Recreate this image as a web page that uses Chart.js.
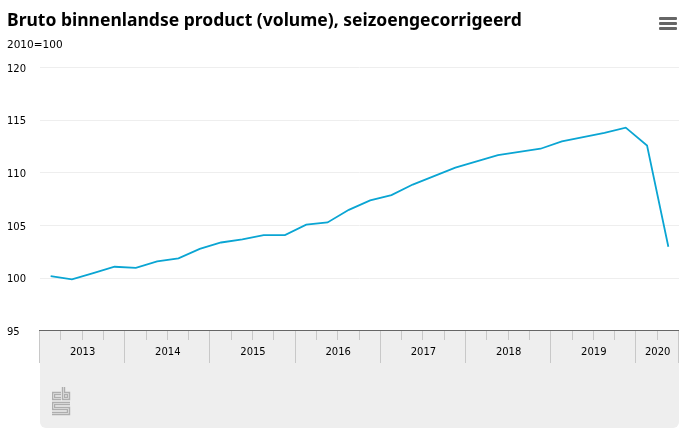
<!DOCTYPE html>
<html>
<head>
<meta charset="utf-8">
<style>
html, body { margin: 0; padding: 0; background: #fff; }
#wrap { position: relative; width: 696px; height: 442px; }
#menu { position: absolute; left: 659px; top: 17px; width: 18px; height: 3px; background: #666; border-radius: 1px;
        box-shadow: 0 5px 0 #666, 0 10px 0 #666; }
#logo { position: absolute; left: 52px; top: 387px; }
#logo path { fill: none; }
</style>
<script src="https://cdn.jsdelivr.net/npm/chart.js@4"></script>
</head>
<body>
<div id="wrap">
    <canvas id="bbpChart" width="696" height="442"></canvas>
    <div id="menu"></div>
    <svg id="logo" width="19" height="29" viewBox="0 0 19 29">
        <g stroke="#aeaeae" stroke-width="3.4">
            <path d="M9 6.5H1.5V11.5H9"/>
            <path d="M11.5 0V11.5H16.5V6.5H11.5"/>
            <path d="M18 16.5H1.5V21.5H16.5V26.5H0"/>
        </g>
        <g stroke="#d6d6d6" stroke-width="1">
            <path d="M9 6.5H1.5V11.5H9"/>
            <path d="M11.5 0V11.5H16.5V6.5H11.5"/>
            <path d="M18 16.5H1.5V21.5H16.5V26.5H0"/>
        </g>
    </svg>
</div>
<script>
var quarters = ["2013 K1","2013 K2","2013 K3","2013 K4","2014 K1","2014 K2","2014 K3","2014 K4",
    "2015 K1","2015 K2","2015 K3","2015 K4","2016 K1","2016 K2","2016 K3","2016 K4",
    "2017 K1","2017 K2","2017 K3","2017 K4","2018 K1","2018 K2","2018 K3","2018 K4",
    "2019 K1","2019 K2","2019 K3","2019 K4","2020 K1","2020 K2"];
var bbpValues = [100.2, 99.9, 100.5, 101.1, 101.0, 101.6, 101.9, 102.8,
    103.4, 103.7, 104.1, 104.1, 105.1, 105.3, 106.5, 107.4,
    107.9, 108.9, 109.7, 110.5, 111.1, 111.7, 112.0, 112.3,
    113.0, 113.4, 113.8, 114.3, 112.6, 103.0];
var years = ["2013","2014","2015","2016","2017","2018","2019","2020"];
var yearQuarters = [4, 4, 4, 4, 4, 4, 4, 2];

var labelFont = "10px 'DejaVu Sans'";

// grijs vlak onder de as
var panelPlugin = {
    id: "panel",
    beforeDraw: function (chart) {
        var c = chart.ctx, a = chart.chartArea;
        c.save();
        c.fillStyle = "#eeeeee";
        c.beginPath();
        c.roundRect(a.left, a.bottom, a.right - a.left, 97, [0, 0, 6, 6]);
        c.fill();
        c.restore();
    }
};

// kwartaalstreepjes en jaarlabels op de x-as
var yearAxisPlugin = {
    id: "yearAxis",
    afterDraw: function (chart) {
        var c = chart.ctx, a = chart.chartArea, x = chart.scales.x;
        var step = x.getPixelForValue(1) - x.getPixelForValue(0);
        c.save();
        c.strokeStyle = "#c8c8c8";
        c.lineWidth = 1;
        c.fillStyle = "#000";
        c.font = labelFont;
        c.textAlign = "center";
        c.textBaseline = "middle";
        var i = 0;
        for (var y = 0; y <= years.length; y++) {
            var left = x.getPixelForValue(i) - step / 2;
            var px = Math.round(left) - 0.5;
            c.beginPath();
            c.moveTo(px, a.bottom);
            c.lineTo(px, a.bottom + 32);
            c.stroke();
            if (y == years.length) break;
            for (var q = 1; q < yearQuarters[y]; q++) {
                var qx = Math.round(left + q * step) - 0.5;
                c.beginPath();
                c.moveTo(qx, a.bottom);
                c.lineTo(qx, a.bottom + 9);
                c.stroke();
            }
            c.fillText(years[y], left + yearQuarters[y] * step / 2, a.bottom + 21);
            i += yearQuarters[y];
        }
        c.strokeStyle = "#666";
        c.beginPath();
        c.moveTo(a.left - 1, a.bottom - 0.5);
        c.lineTo(a.right, a.bottom - 0.5);
        c.stroke();
        c.restore();
    }
};

var myChart = new Chart(document.getElementById("bbpChart").getContext("2d"), {
    type: "line",
    data: {
        labels: quarters,
        datasets: [
            {
                label: "Bruto binnenlands product",
                data: bbpValues,
                fill: false,
                borderColor: "#0aa5d3",
                borderWidth: 1.8,
                pointRadius: 0,
                tension: 0
            }
        ]
    },
    options: {
        responsive: false,
        animation: false,
        devicePixelRatio: 1,
        layout: { padding: { left: 7, right: 17, top: 11, bottom: 14 } },
        plugins: {
            legend: { display: false },
            tooltip: { enabled: false },
            title: {
                display: true,
                text: "Bruto binnenlandse product (volume), seizoengecorrigeerd",
                align: "start",
                color: "#000",
                font: { family: "'Noto Sans'", size: 17.5, weight: "bold" },
                padding: { top: 0, bottom: 7 }
            },
            subtitle: {
                display: true,
                text: "2010=100",
                align: "start",
                color: "#000",
                font: { family: "'DejaVu Sans'", size: 10.5 },
                padding: { top: 0, bottom: 16 }
            }
        },
        scales: {
            x: {
                offset: true,
                border: { display: false },
                grid: { display: false },
                ticks: { display: false },
                afterFit: function (scale) { scale.height = 97; }
            },
            y: {
                min: 95,
                max: 120,
                border: { display: false },
                grid: { color: "#eeeeee", lineWidth: 1, drawTicks: false },
                ticks: {
                    stepSize: 5,
                    color: "#000",
                    crossAlign: "far",
                    padding: 0,
                    labelOffset: 1.5,
                    font: { family: "'DejaVu Sans'", size: 10 }
                },
                afterFit: function (scale) { scale.width = 33; }
            }
        }
    },
    plugins: [panelPlugin, yearAxisPlugin]
});
</script>
</body>
</html>
